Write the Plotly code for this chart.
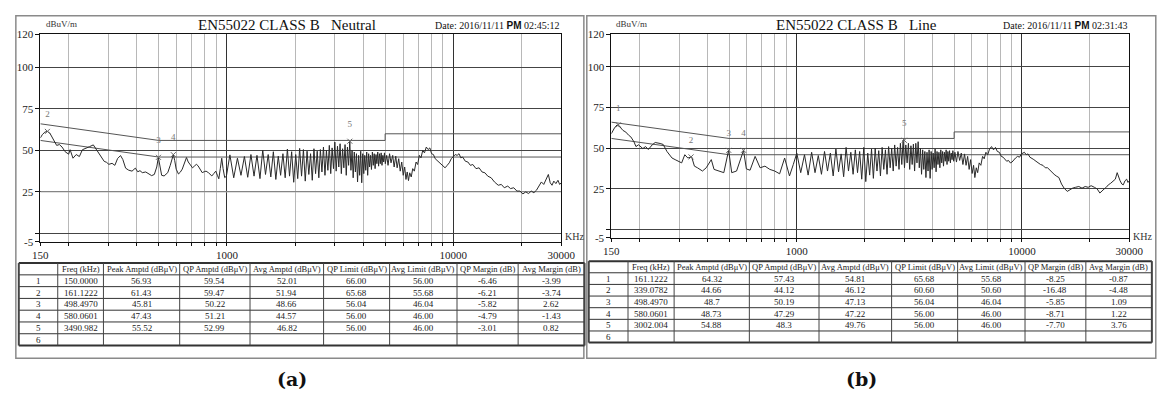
import math
import plotly.graph_objects as go

W, H = 1159, 401

# ---------------- measured spectra (kHz, dBuV) ----------------
NEUTRAL_FREQ = [
    150, 153, 157, 161, 165, 170, 177, 182, 187, 193, 200, 203, 209, 216, 223, 230, 239, 247, 257, 264,
    271, 278, 287, 294, 301, 311, 320, 329, 339, 347, 357, 368, 381, 394, 404, 413, 423, 438, 453, 465,
    478, 490, 498, 506, 515, 528, 540, 548, 562, 572, 580, 588, 597, 611, 622, 635, 650, 663, 675, 685,
    705, 718, 733, 745, 760, 778, 795, 809, 830, 845, 858, 875, 893, 908, 921, 935, 949, 962, 978, 995,
    1031, 1072, 1113, 1154, 1195, 1236, 1277, 1318, 1358, 1400, 1440, 1481, 1522, 1563, 1604, 1645,
    1686, 1727, 1768, 1809, 1850, 1891, 1932, 1973, 2014, 2055, 2096, 2137, 2178, 2219, 2260, 2301,
    2342, 2383, 2424, 2465, 2506, 2547, 2588, 2629, 2670, 2711, 2752, 2793, 2834, 2875, 2916, 2957,
    2998, 3039, 3080, 3121, 3162, 3203, 3244, 3285, 3326, 3367, 3408, 3449, 3490, 3531, 3572, 3613,
    3654, 3695, 3736, 3777, 3818, 3859, 3900, 3941, 3982, 4023, 4064, 4105, 4146, 4187, 4228, 4269,
    4310, 4351, 4392, 4433, 4474, 4515, 4556, 4597, 4638, 4679, 4720, 4761, 4802, 4843, 4884, 4925,
    4966, 5010, 5080, 5150, 5230, 5310, 5400, 5480, 5570, 5650, 5740, 5830, 5920, 6010, 6100, 6180,
    6260, 6340, 6420, 6520, 6620, 6730, 6850, 6960, 7080, 7200, 7330, 7460, 7600, 7740, 7880, 8020,
    8170, 8320, 8480, 8650, 8820, 9000, 9200, 9400, 9600, 9800, 10000, 10200, 10400, 10600, 10800,
    11000, 11300, 11600, 11900, 12200, 12600, 13000, 13400, 13800, 14200, 14700, 15200, 15800, 16300,
    16800, 17400, 17900, 18500, 19100, 19700, 20300, 20900, 21500, 22100, 22700, 23300, 23900, 24500,
    25100, 25700, 26300, 26800, 27300, 27800, 28400, 29000, 29500, 30000,
]
NEUTRAL_LEVEL = [
    57.5, 59.5, 61.0, 61.4, 60.5, 57.5, 53.0, 53.5, 52.0, 49.2, 47.7, 50.4, 45.3, 47.5, 46.3, 50.4, 51.6, 52.2, 53.3, 51.0,
    48.5, 46.3, 43.4, 42.8, 41.6, 42.2, 41.0, 45.1, 46.9, 44.5, 39.3, 38.1, 37.5, 39.3, 37.1, 37.8, 36.6, 37.0, 36.0, 34.8,
    35.5, 40.0, 45.8, 40.5, 35.0, 34.6, 35.5, 36.6, 41.0, 45.5, 47.4, 44.0, 38.7, 35.8, 36.8, 38.7, 42.5, 45.7, 43.0, 41.6,
    39.5, 40.5, 41.6, 40.8, 38.5, 36.6, 37.2, 37.5, 36.5, 35.2, 34.6, 36.0, 37.5, 35.0, 32.9, 39.0, 45.3, 39.0, 33.6, 34.5,
    47.3, 33.5, 45.3, 35.0, 46.3, 33.8, 47.5, 34.5, 47.0, 33.0, 50.2, 35.5, 47.5, 34.0, 49.2, 32.5,
    46.5, 35.0, 48.0, 33.5, 50.8, 34.5, 49.2, 30.8, 47.5, 33.0, 51.2, 34.5, 50.5, 31.5, 49.5, 35.5,
    48.0, 32.0, 51.0, 36.0, 49.5, 33.5, 50.5, 37.0, 52.0, 35.0, 50.0, 38.0, 53.0, 36.0, 51.5, 39.0,
    55.0, 37.5, 52.5, 40.0, 54.0, 36.0, 51.0, 39.5, 53.5, 35.0, 52.0, 41.0, 55.5, 38.0, 50.0, 33.5,
    49.0, 37.0, 48.0, 31.0, 47.0, 35.0, 49.5, 30.5, 48.0, 36.0, 47.0, 38.0, 49.0, 35.0, 48.0, 40.0,
    47.0, 38.5, 49.0, 41.0, 48.0, 39.0, 47.5, 42.0, 49.0, 40.5, 48.0, 42.0, 48.5, 41.0, 47.0, 43.0,
    48.5, 42.0, 47.0, 41.0, 48.0, 42.5, 47.0, 40.0, 46.5, 39.5, 45.0, 37.5, 43.0, 35.0, 40.0, 32.5,
    37.0, 31.8, 36.5, 34.0, 39.0, 37.5, 43.0, 41.5, 47.0, 45.5, 50.0, 48.5, 52.0, 50.5, 51.5, 48.0,
    47.5, 45.0, 44.0, 42.5, 41.5, 40.5, 39.5, 41.0, 42.5, 45.0, 46.0, 47.5, 47.0, 48.0, 45.5,
    46.0, 43.5, 43.0, 41.0, 41.5, 39.0, 39.5, 37.0, 36.5, 34.5, 33.5, 31.0, 29.0, 29.5,
    27.5, 28.5, 27.0, 27.5, 25.5, 25.5, 23.8, 25.0, 24.0, 25.5, 24.5, 26.0, 29.0, 31.0,
    29.5, 32.5, 35.5, 30.5, 29.0, 31.5, 30.0, 32.0, 29.5, 30.5,
]

LINE_FREQ = [
    150, 155, 159, 164, 169, 174, 179, 183, 189, 193, 198, 207, 213, 219, 228, 235, 247, 255, 265, 279,
    288, 296, 308, 318, 328, 341, 351, 362, 381, 396, 417, 429, 451, 474, 498, 514, 540, 560, 580, 597,
    620, 653, 687, 722, 759, 798, 839, 883, 928, 965, 1000,
    1041, 1082, 1123, 1164, 1205, 1246, 1287, 1328, 1369, 1410, 1451, 1492, 1533, 1574, 1615, 1656,
    1697, 1738, 1779, 1820, 1861, 1902, 1943, 1984, 2025, 2066, 2107, 2148, 2189, 2230, 2271, 2312,
    2353, 2394, 2435, 2476, 2517, 2558, 2599, 2640, 2681, 2722, 2763, 2804, 2845, 2886, 2927, 2968,
    3009, 3050, 3091, 3132, 3173, 3214, 3255, 3296, 3337, 3378, 3419, 3460, 3501, 3542, 3583, 3624,
    3665, 3706, 3747, 3788, 3829, 3870, 3911, 3952, 3993, 4034, 4075, 4116, 4157, 4198, 4239, 4280,
    4321, 4362, 4403, 4444, 4485, 4526, 4567, 4608, 4649, 4690, 4731, 4772, 4813, 4854, 4895, 4936,
    4977, 5040, 5120, 5200, 5290, 5380, 5470, 5560, 5650, 5740, 5830, 5920, 6010, 6100, 6180, 6270,
    6360, 6460, 6570, 6690, 6800, 6920, 7050, 7180, 7330, 7480, 7630, 7780, 7940, 8100, 8250, 8400,
    8560, 8720, 8880, 9040, 9200, 9370, 9570, 9760, 9950, 10150, 10260, 10450, 10650, 10850, 11050,
    11300, 11550, 11800, 12100, 12400, 12700, 13000, 13300, 13600, 13900, 14200, 14600, 15000, 15400,
    15900, 16300, 16800, 17300, 17900, 18500, 19100, 19700, 20300, 21000, 21600, 22200, 22700, 23200,
    23700, 24200, 24800, 25400, 26000, 26500, 27000, 27300, 27800, 28200, 28700, 29200, 29600, 30000,
]
LINE_LEVEL = [
    58.9, 62.5, 64.3, 63.0, 60.9, 59.9, 58.0, 57.0, 54.0, 51.0, 52.1, 49.8, 51.0, 49.2, 52.1, 53.5, 52.9, 52.3, 48.0, 44.0,
    43.0, 42.0, 41.0, 46.0, 44.0, 44.7, 39.0, 38.0, 36.0, 38.0, 43.0, 37.0, 36.0, 35.0, 48.7, 35.0, 36.0, 42.0, 48.7, 37.3,
    36.5, 45.0, 38.0, 39.0, 37.0, 36.0, 34.3, 44.0, 33.0, 40.0, 47.0,
    35.0, 46.0, 33.5, 47.5, 35.0, 45.5, 34.0, 48.0, 36.0, 47.0, 33.0, 49.5, 35.5, 46.5, 32.5, 50.5,
    36.0, 47.5, 34.0, 49.0, 35.0, 48.0, 31.0, 50.5, 29.5, 47.0, 33.5, 49.5, 31.5, 50.0, 36.0, 48.5,
    33.0, 50.5, 37.0, 49.0, 34.0, 51.0, 38.0, 50.0, 36.0, 52.0, 39.0, 50.5, 37.0, 53.0, 40.0, 55.0,
    38.0, 52.0, 41.0, 53.0, 37.0, 51.5, 40.0, 52.5, 36.0, 53.0, 41.0, 54.0, 38.0, 50.0, 34.0, 49.0,
    37.0, 48.0, 32.0, 47.5, 36.0, 49.0, 31.5, 48.0, 37.0, 47.0, 38.0, 49.5, 35.5, 48.0, 40.0, 47.5,
    38.0, 49.0, 41.0, 48.0, 39.0, 47.5, 42.0, 49.0, 40.0, 48.0, 42.0, 48.5, 41.0, 47.0, 43.0, 48.5,
    42.0, 47.5, 41.5, 48.0, 42.5, 47.0, 40.0, 46.5, 39.5, 45.0, 37.0, 43.0, 34.5, 39.5, 32.0, 38.0,
    35.0, 41.0, 39.5, 45.0, 43.5, 47.5, 46.0, 49.5, 51.0, 49.0, 50.5, 48.0, 47.5, 45.0, 44.5, 43.5,
    42.0, 42.5, 41.0, 41.5, 43.0, 44.0, 45.0, 44.5, 46.5, 47.0, 47.5, 46.0, 46.5, 44.5, 44.0,
    43.0, 42.0, 41.0, 40.0, 39.5, 38.0, 38.0, 36.5, 35.5, 34.0, 33.0, 32.0, 28.0, 25.5,
    23.5, 24.5, 25.5, 26.0, 26.5, 25.5, 26.5, 26.0, 27.0, 26.0, 25.0, 22.5, 24.0, 25.0,
    26.0, 27.5, 28.5, 30.0, 31.0, 35.0, 31.0, 30.0, 28.0, 27.5, 30.0, 31.0, 29.0, 30.0,
]

# ---------------- EN55022 class B limits ----------------
QP_LIMIT_FREQ = [150, 500, 5000, 5000, 30000]
QP_LIMIT_LEVEL = [66, 56, 56, 60, 60]
AVG_LIMIT_FREQ = [150, 500, 30000]
AVG_LIMIT_LEVEL = [56, 46, 46]

# ---------------- result tables ----------------
TABLE_HEADER = ["", "Freq (kHz)", "Peak Amptd (dB\u03bcV)", "QP Amptd (dB\u03bcV)", "Avg Amptd (dB\u03bcV)",
                "QP Limit (dB\u03bcV)", "Avg Limit (dB\u03bcV)", "QP Margin (dB)", "Avg Margin (dB)"]

NEUTRAL_MARK_FREQ = ["150.0000", "161.1222", "498.4970", "580.0601", "3490.982"]
NEUTRAL_PEAK = ["56.93", "61.43", "45.81", "47.43", "55.52"]
NEUTRAL_QP = ["59.54", "59.47", "50.22", "51.21", "52.99"]
NEUTRAL_AVG = ["52.01", "51.94", "48.66", "44.57", "46.82"]
NEUTRAL_QP_LIM = ["66.00", "65.68", "56.04", "56.00", "56.00"]
NEUTRAL_AVG_LIM = ["56.00", "55.68", "46.04", "46.00", "46.00"]
NEUTRAL_QP_MARGIN = ["-6.46", "-6.21", "-5.82", "-4.79", "-3.01"]
NEUTRAL_AVG_MARGIN = ["-3.99", "-3.74", "2.62", "-1.43", "0.82"]

LINE_MARK_FREQ = ["161.1222", "339.0782", "498.4970", "580.0601", "3002.004"]
LINE_PEAK = ["64.32", "44.66", "48.7", "48.73", "54.88"]
LINE_QP = ["57.43", "44.12", "50.19", "47.29", "48.3"]
LINE_AVG = ["54.81", "46.12", "47.13", "47.22", "49.76"]
LINE_QP_LIM = ["65.68", "60.60", "56.04", "56.00", "56.00"]
LINE_AVG_LIM = ["55.68", "50.60", "46.04", "46.00", "46.00"]
LINE_QP_MARGIN = ["-8.25", "-16.48", "-5.85", "-8.71", "-7.70"]
LINE_AVG_MARGIN = ["-0.87", "-4.48", "1.09", "1.22", "3.76"]

X_TICKS = [150, 1000, 10000, 30000]
X_MINOR = [200, 300, 400, 500, 600, 700, 800, 900,
           2000, 3000, 4000, 5000, 6000, 7000, 8000, 9000, 20000]
Y_TICKS = [-5, 0, 25, 50, 75, 100, 120]
Y_LABELS = ["-5", "", "25", "50", "75", "100", "120"]

SERIF = "Liberation Serif"
INK = "#222222"


def fx(p):
    return p / W


def fy(p):
    return 1 - p / H


panels = [
    dict(ax="", title="EN55022 CLASS B   Neutral", time="02:45:12", tag="(a)",
         freq=NEUTRAL_FREQ, level=NEUTRAL_LEVEL, mark_f=NEUTRAL_MARK_FREQ, mark_v=NEUTRAL_PEAK,
         cols=[NEUTRAL_MARK_FREQ, NEUTRAL_PEAK, NEUTRAL_QP, NEUTRAL_AVG, NEUTRAL_QP_LIM,
               NEUTRAL_AVG_LIM, NEUTRAL_QP_MARGIN, NEUTRAL_AVG_MARGIN],
         plot=(33, 564, 29, 243), frame=(8, 587, 10, 363), light_25=True,
         grid_x=[11, 50.7, 97.3, 175, 246.7, 321.7, 389, 457.7, 520, 587.7], tbl=(265, 350),
         title_x=284, date_x=499, unit_x=55, tag_x=290),
    dict(ax="2", title="EN55022 CLASS B   Line", time="02:31:43", tag="(b)",
         freq=LINE_FREQ, level=LINE_LEVEL, mark_f=LINE_MARK_FREQ, mark_v=LINE_PEAK,
         cols=[LINE_MARK_FREQ, LINE_PEAK, LINE_QP, LINE_AVG, LINE_QP_LIM,
               LINE_AVG_LIM, LINE_QP_MARGIN, LINE_AVG_MARGIN],
         plot=(615, 1143, 29, 239), frame=(590, 1170, 10, 363), light_25=False,
         grid_x=[592, 632, 679, 755.7, 826.7, 900.7, 968, 1036.7, 1098.7, 1166], tbl=(263, 347),
         title_x=865, date_x=1078, unit_x=636, tag_x=870),
]

fig = go.Figure()
shapes = []
annotations = []

for p in panels:
    xa, ya = "x" + p["ax"], "y" + p["ax"]
    x0, x1, y0, y1 = p["plot"]

    if p["light_25"]:
        # the 25 dBuV reference line is drawn lighter in this scan
        fig.add_trace(go.Scatter(x=[150, 30000], y=[25, 25], mode="lines", xaxis=xa, yaxis=ya,
                                 line=dict(color="#b0b0b0", width=1), hoverinfo="skip"))

    # limit lines
    fig.add_trace(go.Scatter(x=QP_LIMIT_FREQ, y=QP_LIMIT_LEVEL, mode="lines", xaxis=xa, yaxis=ya,
                             line=dict(color="#555555", width=1), hoverinfo="skip"))
    fig.add_trace(go.Scatter(x=AVG_LIMIT_FREQ, y=AVG_LIMIT_LEVEL, mode="lines", xaxis=xa, yaxis=ya,
                             line=dict(color="#555555", width=1), hoverinfo="skip"))
    # spectrum
    fig.add_trace(go.Scatter(x=p["freq"], y=p["level"], mode="lines", xaxis=xa, yaxis=ya,
                             line=dict(color="#2a2a2a", width=1)))
    # markers and their index numbers
    mf = [float(v) for v in p["mark_f"]]
    mv = [float(v) for v in p["mark_v"]]
    fig.add_trace(go.Scatter(x=mf, y=mv, mode="markers", xaxis=xa, yaxis=ya,
                             marker=dict(symbol="x-thin-open", size=5, color="#666666",
                                         line=dict(width=1, color="#666666"))))
    fig.add_trace(go.Scatter(x=mf, y=[v + 10 for v in mv], mode="text", xaxis=xa, yaxis=ya,
                             text=[str(i + 1) for i in range(len(mf))],
                             textposition="middle center", cliponaxis=False,
                             textfont=dict(family=SERIF, size=9, color="#777777")))

    axis_x = dict(type="log", range=[math.log10(150), math.log10(30000)],
                  domain=[fx(x0), fx(x1)], anchor=ya,
                  tickvals=X_TICKS, ticktext=[str(v) for v in X_TICKS],
                  showgrid=True, gridcolor="#333333", gridwidth=1,
                  showline=True, mirror=True, linecolor="#111111", linewidth=1,
                  ticks="outside", ticklen=3, tickcolor="#111111",
                  tickfont=dict(family=SERIF, size=11, color=INK),
                  minor=dict(tickmode="array", tickvals=X_MINOR, showgrid=True,
                             gridcolor="#b8b8b8", gridwidth=1, ticks="outside",
                             ticklen=3, tickcolor="#111111"),
                  zeroline=False, fixedrange=True)
    axis_y = dict(range=[-5, 120], domain=[fy(y1), fy(y0)], anchor=xa,
                  tickvals=Y_TICKS, ticktext=Y_LABELS,
                  showgrid=True, gridcolor="#444444", gridwidth=1,
                  showline=True, mirror=True, linecolor="#111111", linewidth=1,
                  ticks="outside", ticklen=4, tickcolor="#111111",
                  tickfont=dict(family=SERIF, size=11, color=INK),
                  zeroline=False, fixedrange=True)
    fig.update_layout(**{"xaxis" + p["ax"]: axis_x, "yaxis" + p["ax"]: axis_y})

    # outer panel frame
    fl, fr, ft, fb = p["frame"]
    shapes.append(dict(type="rect", xref="paper", yref="paper", x0=fx(fl), x1=fx(fr),
                       y0=fy(fb), y1=fy(ft), line=dict(color="#8a8a8a", width=1.5)))

    # header texts
    annotations.append(dict(x=fx(p["title_x"]), y=fy(20), xref="paper", yref="paper",
                            text=p["title"], showarrow=False, xanchor="center", yanchor="middle",
                            font=dict(family=SERIF, size=15, color="#111111")))
    annotations.append(dict(x=fx(p["date_x"]), y=fy(20), xref="paper", yref="paper",
                            text="Date: 2016/11/11 <span style='font-family:Liberation Sans;font-weight:bold'>PM</span> "
                                 + p["time"],
                            showarrow=False, xanchor="center", yanchor="middle",
                            font=dict(family=SERIF, size=10, color="#111111")))
    annotations.append(dict(x=fx(p["unit_x"]), y=fy(19), xref="paper", yref="paper",
                            text="dBuV/m", showarrow=False, xanchor="center", yanchor="middle",
                            font=dict(family=SERIF, size=9, color="#333333")))
    annotations.append(dict(x=fx(x1 + 2), y=fy(238), xref="paper", yref="paper",
                            text="KHz", showarrow=False, xanchor="left", yanchor="middle",
                            font=dict(family=SERIF, size=10, color="#333333")))

    # results table
    gx = p["grid_x"]
    tt, tb = p["tbl"]
    n_rows = 7
    rh = (tb - tt) / n_rows
    for i in range(n_rows + 1):
        yy = tt + i * rh
        width = 2 if i in (0, n_rows) else 1
        shapes.append(dict(type="line", xref="paper", yref="paper", x0=fx(gx[0]), x1=fx(gx[-1]),
                           y0=fy(yy), y1=fy(yy), line=dict(color="#333333", width=width)))
    for j, xx in enumerate(gx):
        width = 2 if j in (0, len(gx) - 1) else 1
        shapes.append(dict(type="line", xref="paper", yref="paper", x0=fx(xx), x1=fx(xx),
                           y0=fy(tt), y1=fy(tb), line=dict(color="#444444", width=width)))
    for j, head in enumerate(TABLE_HEADER):
        cx = (gx[j] + gx[j + 1]) / 2
        annotations.append(dict(x=fx(cx), y=fy(tt + rh / 2), xref="paper", yref="paper",
                                text=head, showarrow=False, xanchor="center", yanchor="middle",
                                font=dict(family=SERIF, size=8.5, color=INK)))
    for r in range(6):
        cy = tt + (r + 1.5) * rh
        cx = (gx[0] + gx[1]) / 2
        annotations.append(dict(x=fx(cx), y=fy(cy), xref="paper", yref="paper",
                                text=str(r + 1), showarrow=False, xanchor="center", yanchor="middle",
                                font=dict(family=SERIF, size=9, color=INK)))
        if r < 5:
            for j, col in enumerate(p["cols"]):
                cxx = (gx[j + 1] + gx[j + 2]) / 2
                annotations.append(dict(x=fx(cxx), y=fy(cy), xref="paper", yref="paper",
                                        text=col[r], showarrow=False, xanchor="center",
                                        yanchor="middle",
                                        font=dict(family=SERIF, size=9, color=INK)))

    # panel tag
    annotations.append(dict(x=fx(p["tag_x"]), y=fy(385), xref="paper", yref="paper",
                            text="<b>" + p["tag"] + "</b>", showarrow=False,
                            xanchor="center", yanchor="middle",
                            font=dict(family="DejaVu Serif", size=19, color="#111111")))

fig.update_layout(width=W, height=H, margin=dict(l=0, r=0, t=0, b=0),
                  paper_bgcolor="white", plot_bgcolor="white", showlegend=False,
                  shapes=shapes, annotations=annotations)

fig.write_html("out.html")
